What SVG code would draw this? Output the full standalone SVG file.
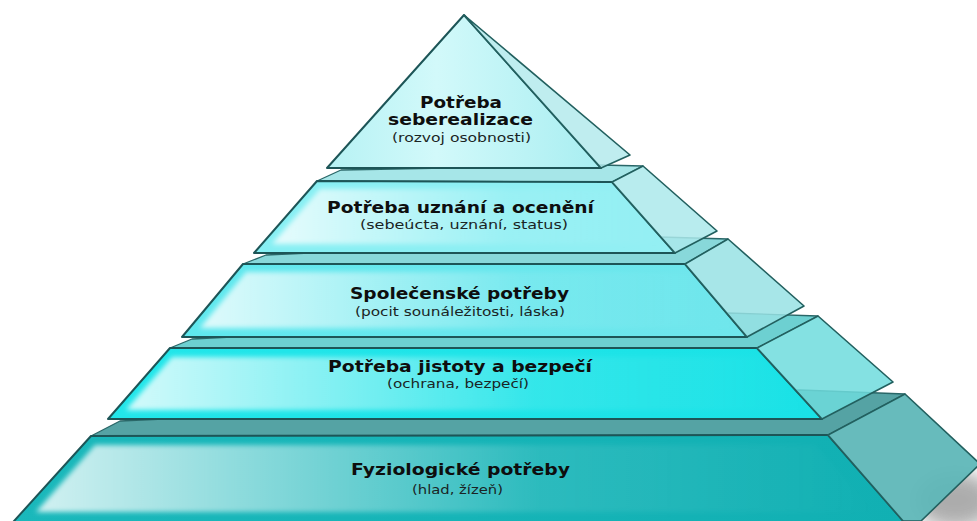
<svg xmlns="http://www.w3.org/2000/svg" width="977" height="521" viewBox="0 0 977 521">
<defs>
<style>
.edge{stroke:#1d5557;stroke-width:2;stroke-linejoin:round}
.thin{stroke:#2a6768;stroke-width:1.3;stroke-linejoin:round}
.side{stroke:#22605f;stroke-width:1.6;stroke-linejoin:round}
.title{font-family:"DejaVu Sans","Liberation Sans",sans-serif;font-weight:bold;font-size:15px;fill:#0e0e0e;text-anchor:middle}
.sub{font-family:"DejaVu Sans","Liberation Sans",sans-serif;font-size:12.5px;fill:#1a2424;text-anchor:middle}
.hl{fill:url(#hlg);filter:url(#blur)}
</style>
<filter id="blur" x="-10%" y="-20%" width="120%" height="140%"><feGaussianBlur stdDeviation="2.5"/></filter>
<filter id="shblur" x="-50%" y="-50%" width="200%" height="200%"><feGaussianBlur stdDeviation="9"/></filter>
<linearGradient id="hlg" x1="0" y1="0" x2="1" y2="0">
<stop offset="0" stop-color="#fff" stop-opacity="0.8"/>
<stop offset="0.25" stop-color="#fff" stop-opacity="0.5"/>
<stop offset="0.6" stop-color="#fff" stop-opacity="0.1"/>
<stop offset="1" stop-color="#fff" stop-opacity="0"/>
</linearGradient>
<linearGradient id="f1" x1="0" y1="0" x2="1" y2="0">
<stop offset="0" stop-color="#b6f2f4"/><stop offset="0.4" stop-color="#d2f9fa"/><stop offset="1" stop-color="#a8eef1"/>
</linearGradient>
<linearGradient id="f2" x1="0" y1="0" x2="1" y2="0">
<stop offset="0" stop-color="#86eff3"/><stop offset="1" stop-color="#94eff3"/>
</linearGradient>
<linearGradient id="f3" x1="0" y1="0" x2="1" y2="0">
<stop offset="0" stop-color="#5fe8ee"/><stop offset="1" stop-color="#6fe6ec"/>
</linearGradient>
<linearGradient id="f4" x1="0" y1="0" x2="1" y2="0">
<stop offset="0" stop-color="#22e6ea"/><stop offset="1" stop-color="#1ae2e6"/>
</linearGradient>
<linearGradient id="f5" x1="0" y1="0" x2="1" y2="0">
<stop offset="0" stop-color="#1ab8bb"/><stop offset="1" stop-color="#11b0b3"/>
</linearGradient>
</defs>
<rect width="977" height="521" fill="#fff"/>
<ellipse cx="955" cy="500" rx="40" ry="28" fill="#8a8a8a" opacity="0.7" filter="url(#shblur)"/>

<g id="tier-5">
<polygon class="thin" points="91,436 828,435 905,394 800,390 120,421" fill="#55a3a4"/>
<polygon class="edge" points="91,436 828,435 912,531 5,531" fill="url(#f5)"/>
<polygon class="hl" points="95,445 815,445 875,512 36,512"/>
<polygon class="side" points="828,435 905,394 980,464 921,521 903,521" fill="#5fb7b8" fill-opacity="0.95"/>
<text class="title" x="460.5" y="475" textLength="219" lengthAdjust="spacingAndGlyphs">Fyziologické potřeby</text>
<text class="sub" x="457.5" y="494" textLength="91" lengthAdjust="spacingAndGlyphs">(hlad, žízeň)</text>
</g>

<g id="tier-4">
<polygon class="thin" points="170,348 757,348 818,316 728,313 192,339" fill="#6dd0d1"/>
<polygon class="edge" points="170,348 757,348 822,419 108,419" fill="url(#f4)"/>
<polygon class="hl" points="172,357 760,357 805,410 126,410"/>
<polygon class="side" points="757,348 818,316 893,382 822,419" fill="#6fdcdd" fill-opacity="0.85"/>
<text class="title" x="460" y="372" textLength="264" lengthAdjust="spacingAndGlyphs">Potřeba jistoty a bezpečí</text>
<text class="sub" x="458" y="388" textLength="142" lengthAdjust="spacingAndGlyphs">(ochrana, bezpečí)</text>
</g>

<g id="tier-3">
<polygon class="thin" points="243,264 685,264 728,239 660,237 266,255" fill="#88d8da"/>
<polygon class="edge" points="243,264 685,264 747,337 182,337" fill="url(#f3)"/>
<polygon class="hl" points="246,272 690,272 735,328 200,328"/>
<polygon class="side" points="685,264 728,239 804,306 747,337" fill="#98e2e4" fill-opacity="0.85"/>
<text class="title" x="459.5" y="299" textLength="219" lengthAdjust="spacingAndGlyphs">Společenské potřeby</text>
<text class="sub" x="460" y="316" textLength="210" lengthAdjust="spacingAndGlyphs">(pocit sounáležitosti, láska)</text>
</g>

<g id="tier-2">
<polygon class="thin" points="317,181 612,182 643,166 600,165 341,170" fill="#a6e6e8"/>
<polygon class="edge" points="317,181 612,182 675,253 254,253" fill="url(#f2)"/>
<polygon class="hl" points="320,189 618,189 665,244 272,244"/>
<polygon class="side" points="612,182 643,166 717,231 675,253" fill="#ace9eb" fill-opacity="0.85"/>
<text class="title" x="460.5" y="213" textLength="267" lengthAdjust="spacingAndGlyphs">Potřeba uznání a ocenění</text>
<text class="sub" x="464" y="229" textLength="208" lengthAdjust="spacingAndGlyphs">(sebeúcta, uznání, status)</text>
</g>

<g id="tier-1">
<polygon class="edge" points="464,15 601,168 327,168" fill="url(#f1)"/>
<polygon class="side" points="464,15 630,155 601,168" fill="#b4eaec" fill-opacity="0.85"/>
<text class="title" x="461" y="108" textLength="82" lengthAdjust="spacingAndGlyphs">Potřeba</text>
<text class="title" x="460.5" y="125" textLength="145" lengthAdjust="spacingAndGlyphs">seberealizace</text>
<text class="sub" x="461.5" y="142" textLength="139" lengthAdjust="spacingAndGlyphs">(rozvoj osobnosti)</text>
</g>
</svg>
